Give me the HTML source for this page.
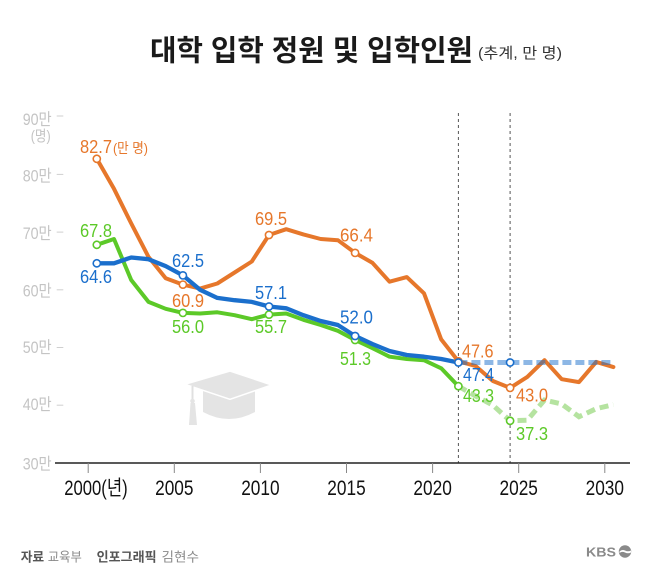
<!DOCTYPE html>
<html>
<head>
<meta charset="utf-8">
<style>
  html,body{margin:0;padding:0;background:#fff;}
  svg{display:block;}
  text{font-family:"Liberation Sans","Noto Sans CJK KR",sans-serif;}
</style>
</head>
<body>
<svg width="658" height="577" viewBox="0 0 658 577" xmlns="http://www.w3.org/2000/svg">
  <rect width="658" height="577" fill="#fff"/>

  <!-- Title -->
  <text x="150" y="60.5" font-size="29" font-weight="bold" fill="#1a1a1a" textLength="323" lengthAdjust="spacingAndGlyphs">대학 입학 정원 및 입학인원</text>
  <text x="478" y="58" font-size="15" fill="#333" textLength="84" lengthAdjust="spacingAndGlyphs">(추계, 만 명)</text>

  <!-- Graduation cap icon -->
  <g fill="#e4e4e4">
    <path d="M203,389 L255,389 L255,412 Q229,426 203,412 Z"/>
    <path d="M185,384.3 L230,371 L271.7,385 L230,399.3 Z" stroke="#fff" stroke-width="1.5"/>
    <line x1="192.5" y1="386" x2="192.5" y2="402" stroke="#e0e0e0" stroke-width="2"/>
    <circle cx="192.5" cy="401" r="2.3"/>
    <path d="M190.5,403 L195,403 L197,425 L189,425 Z"/>
  </g>

  <!-- Y axis labels -->
  <g fill="#c4c4c4" font-size="16.5" text-anchor="end">
    <text x="51.7" y="125" textLength="29" lengthAdjust="spacingAndGlyphs">90만</text>
    <text x="50.7" y="141" font-size="15" textLength="20" lengthAdjust="spacingAndGlyphs">(명)</text>
    <text x="51.7" y="181.5" textLength="29" lengthAdjust="spacingAndGlyphs">80만</text>
    <text x="51.7" y="239" textLength="29" lengthAdjust="spacingAndGlyphs">70만</text>
    <text x="51.7" y="296.5" textLength="29" lengthAdjust="spacingAndGlyphs">60만</text>
    <text x="51.7" y="353" textLength="29" lengthAdjust="spacingAndGlyphs">50만</text>
    <text x="51.7" y="410" textLength="29" lengthAdjust="spacingAndGlyphs">40만</text>
    <text x="51.7" y="469.5" textLength="29" lengthAdjust="spacingAndGlyphs">30만</text>
  </g>
  <g stroke="#cfcfcf" stroke-width="1">
    <line x1="56.7" y1="116" x2="63.3" y2="116"/>
    <line x1="56.7" y1="174.4" x2="63.3" y2="174.4"/>
    <line x1="56.7" y1="232.1" x2="63.3" y2="232.1"/>
    <line x1="56.7" y1="289.8" x2="63.3" y2="289.8"/>
    <line x1="56.7" y1="347.5" x2="63.3" y2="347.5"/>
    <line x1="56.7" y1="405.2" x2="63.3" y2="405.2"/>
  </g>

  <!-- Vertical dotted lines -->
  <g stroke="#555" stroke-width="1" stroke-dasharray="3 3">
    <line x1="458.4" y1="113" x2="458.4" y2="463"/>
    <line x1="510.1" y1="113" x2="510.1" y2="463"/>
  </g>

  <!-- X axis -->
  <line x1="55" y1="463" x2="630" y2="463" stroke="#222" stroke-width="1.5"/>
  <g stroke="#888" stroke-width="1">
    <line x1="88.2" y1="463" x2="88.2" y2="473"/>
    <line x1="174.3" y1="463" x2="174.3" y2="473"/>
    <line x1="260.4" y1="463" x2="260.4" y2="473"/>
    <line x1="346.5" y1="463" x2="346.5" y2="473"/>
    <line x1="432.6" y1="463" x2="432.6" y2="473"/>
    <line x1="518.7" y1="463" x2="518.7" y2="473"/>
    <line x1="604.8" y1="463" x2="604.8" y2="473"/>
  </g>
  <g fill="#111" font-size="21">
    <text x="64.3" y="495" textLength="63.4" lengthAdjust="spacingAndGlyphs">2000(년)</text>
    <text x="155.1" y="495" textLength="38.4" lengthAdjust="spacingAndGlyphs">2005</text>
    <text x="241.2" y="495" textLength="38.4" lengthAdjust="spacingAndGlyphs">2010</text>
    <text x="327.3" y="495" textLength="38.4" lengthAdjust="spacingAndGlyphs">2015</text>
    <text x="413.4" y="495" textLength="38.4" lengthAdjust="spacingAndGlyphs">2020</text>
    <text x="499.5" y="495" textLength="38.4" lengthAdjust="spacingAndGlyphs">2025</text>
    <text x="585.6" y="495" textLength="38.4" lengthAdjust="spacingAndGlyphs">2030</text>
  </g>

  <!-- Dashed projections -->
  <polyline fill="none" stroke="#b5e3a0" stroke-width="5" stroke-dasharray="9 5"
    points="458.4,386.2 475.6,396.0 492.9,405.2 510.1,420.8 527.3,420.2 544.5,400.0 561.7,404.0 579.0,416.7 596.2,408.7 613.4,404.6"/>

  <!-- Orange series -->
  <polyline fill="none" stroke="#E6772B" stroke-width="4" stroke-linejoin="round" stroke-linecap="round"
    points="96.8,158.8 114.0,188.8 131.2,223.4 148.5,256.9 165.7,278.3 182.9,284.6 200.1,288.6 217.3,283.5 234.6,272.5 251.8,261.5 269.0,235.0 286.2,229.2 303.4,234.4 320.7,239.0 337.9,240.2 355.1,252.9 372.3,262.7 389.5,281.7 406.8,277.1 424.0,293.3 441.2,339.4 458.4,361.3 475.6,366.0 492.9,381.0 510.1,387.9 527.3,376.9 544.5,360.2 561.7,379.2 579.0,382.1 596.2,361.9 613.4,367.1"/>

  <line x1="458.4" y1="362.5" x2="613.4" y2="362.5" stroke="#1B6FCC" stroke-opacity="0.5" stroke-width="5" stroke-dasharray="9 4"/>

  <!-- Green series -->
  <polyline fill="none" stroke="#5CC928" stroke-width="4" stroke-linejoin="round" stroke-linecap="round"
    points="96.8,244.8 114.0,239.0 131.2,280.0 148.5,301.9 165.7,308.8 182.9,312.9 200.1,313.5 217.3,312.3 234.6,315.2 251.8,319.2 269.0,314.6 286.2,313.5 303.4,319.8 320.7,325.0 337.9,330.8 355.1,340.0 372.3,348.1 389.5,356.7 406.8,359.0 424.0,360.2 441.2,368.3 458.4,386.2"/>

  <!-- Blue series -->
  <polyline fill="none" stroke="#1B6FCC" stroke-width="4.3" stroke-linejoin="round" stroke-linecap="round"
    points="96.8,263.3 114.0,263.3 131.2,257.5 148.5,259.2 165.7,266.1 182.9,275.4 200.1,289.8 217.3,297.9 234.6,300.2 251.8,301.9 269.0,306.5 286.2,308.3 303.4,315.2 320.7,321.0 337.9,325.0 355.1,336.0 372.3,344.0 389.5,351.0 406.8,355.0 424.0,356.7 441.2,359.0 458.4,362.5"/>

  <!-- Markers -->
  <g fill="#fff" stroke-width="1.6">
    <g stroke="#E6772B">
      <circle cx="96.8" cy="158.8" r="3.6"/>
      <circle cx="182.9" cy="284.6" r="3.6"/>
      <circle cx="269.0" cy="235.0" r="3.6"/>
      <circle cx="355.1" cy="252.9" r="3.6"/>
      <circle cx="458.4" cy="361.3" r="3.6"/>
      <circle cx="510.1" cy="387.9" r="3.6"/>
    </g>
    <g stroke="#5CC928">
      <circle cx="96.8" cy="244.8" r="3.6"/>
      <circle cx="182.9" cy="312.9" r="3.6"/>
      <circle cx="269.0" cy="314.6" r="3.6"/>
      <circle cx="355.1" cy="340.0" r="3.6"/>
      <circle cx="458.4" cy="386.2" r="3.6"/>
      <circle cx="510.1" cy="420.8" r="3.6"/>
    </g>
    <g stroke="#1B6FCC">
      <circle cx="96.8" cy="263.3" r="3.6"/>
      <circle cx="182.9" cy="275.4" r="3.6"/>
      <circle cx="269.0" cy="306.5" r="3.6"/>
      <circle cx="355.1" cy="336.0" r="3.6"/>
      <circle cx="458.4" cy="362.5" r="3.6"/>
      <circle cx="510.1" cy="362.5" r="3.6"/>
    </g>
  </g>

  <!-- Data labels -->
  <g font-size="18">
    <g fill="#E6772B">
      <text x="80" y="153" textLength="32" lengthAdjust="spacingAndGlyphs">82.7</text>
      <text x="113" y="153" font-size="14" textLength="35" lengthAdjust="spacingAndGlyphs">(만 명)</text>
      <text x="172" y="307" textLength="32" lengthAdjust="spacingAndGlyphs">60.9</text>
      <text x="255" y="225" textLength="32" lengthAdjust="spacingAndGlyphs">69.5</text>
      <text x="340" y="241.5" textLength="33" lengthAdjust="spacingAndGlyphs">66.4</text>
      <text x="462" y="357.5" textLength="31.5" lengthAdjust="spacingAndGlyphs">47.6</text>
      <text x="516" y="401.5" textLength="32" lengthAdjust="spacingAndGlyphs">43.0</text>
    </g>
    <g fill="#5CC928">
      <text x="80" y="237" textLength="32" lengthAdjust="spacingAndGlyphs">67.8</text>
      <text x="172" y="333" textLength="32" lengthAdjust="spacingAndGlyphs">56.0</text>
      <text x="255" y="333" textLength="32" lengthAdjust="spacingAndGlyphs">55.7</text>
      <text x="340" y="365" textLength="31" lengthAdjust="spacingAndGlyphs">51.3</text>
      <text x="463" y="402" textLength="31" lengthAdjust="spacingAndGlyphs">43.3</text>
      <text x="516" y="440" textLength="32" lengthAdjust="spacingAndGlyphs">37.3</text>
    </g>
    <g fill="#1B6FCC">
      <text x="80" y="283" textLength="32" lengthAdjust="spacingAndGlyphs">64.6</text>
      <text x="172" y="267" textLength="32" lengthAdjust="spacingAndGlyphs">62.5</text>
      <text x="255" y="299" textLength="32" lengthAdjust="spacingAndGlyphs">57.1</text>
      <text x="340" y="323.5" textLength="33" lengthAdjust="spacingAndGlyphs">52.0</text>
      <text x="463" y="381" textLength="31" lengthAdjust="spacingAndGlyphs">47.4</text>
    </g>
  </g>

  <!-- Footer -->
  <g font-size="13">
    <text x="20.7" y="561.5" fill="#555" font-weight="bold" textLength="23.5" lengthAdjust="spacingAndGlyphs">자료</text>
    <text x="47.8" y="561.5" fill="#8a8a8a" textLength="34" lengthAdjust="spacingAndGlyphs">교육부</text>
    <text x="96.7" y="561.5" fill="#555" font-weight="bold" textLength="60" lengthAdjust="spacingAndGlyphs">인포그래픽</text>
    <text x="161.5" y="561.5" fill="#8a8a8a" textLength="37.5" lengthAdjust="spacingAndGlyphs">김현수</text>
  </g>
  <text x="586" y="556.5" font-size="13" font-weight="bold" fill="#8a8a8a" textLength="30" lengthAdjust="spacingAndGlyphs">KBS</text>
  <circle cx="625" cy="551.5" r="6.2" fill="#8a8a8a"/>
  <path d="M619.5,551.5 Q622,549 625,550.5 Q628,552 631,550.5 L631,552.5 Q628,554 625,552.5 Q622,551 619.5,553 Z" fill="#fff"/>
</svg>
</body>
</html>
